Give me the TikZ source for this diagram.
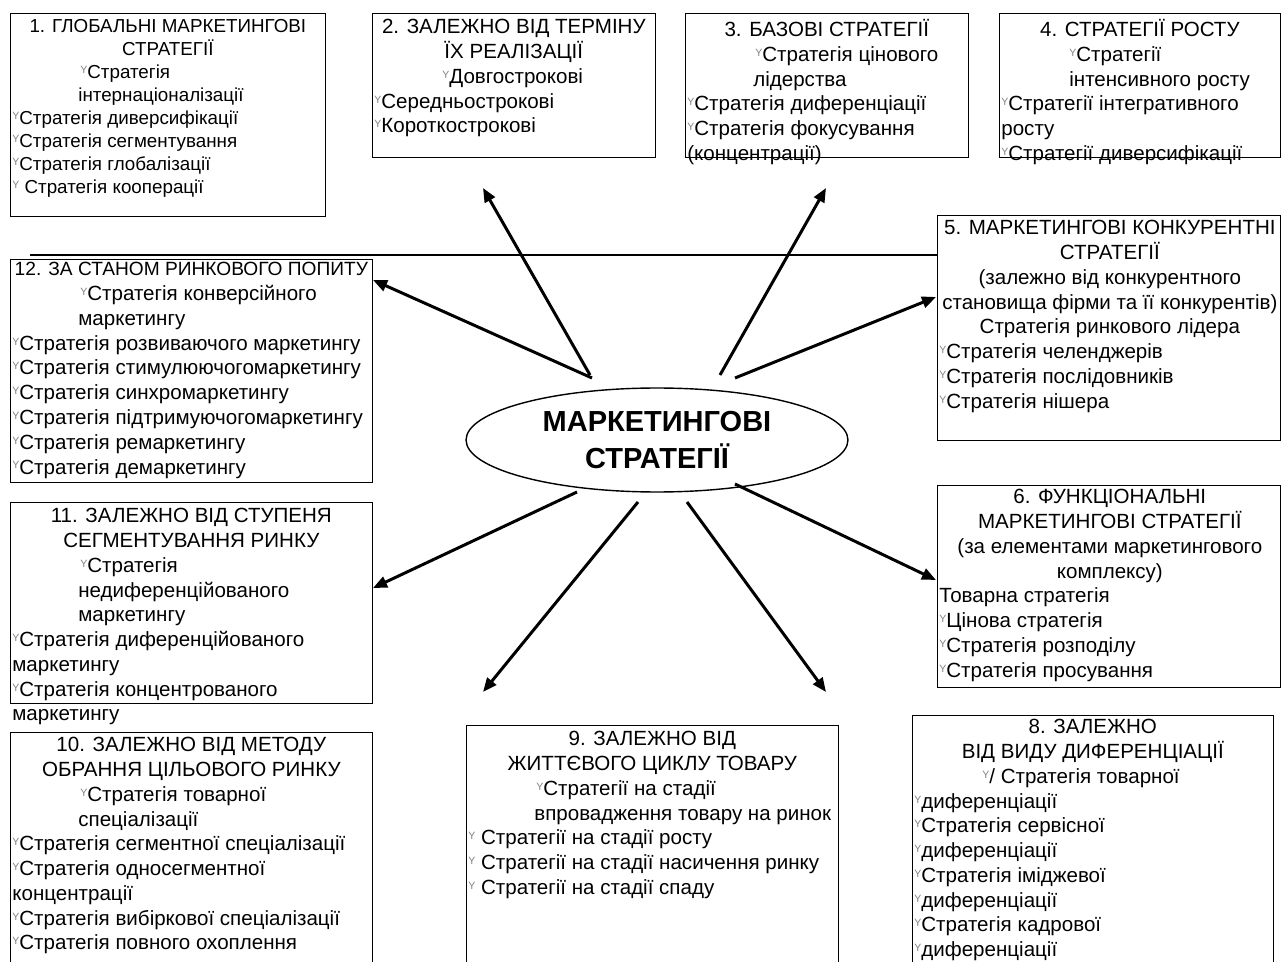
\documentclass[tikz,border=0pt]{standalone}
\usepackage{fontspec}
\setmainfont{Liberation Sans}
\usetikzlibrary{arrows.meta,shapes.geometric}

% piccolo segno grigio davanti alle voci
\newcommand\mk{{\color{gray}\fontsize{6}{6}\selectfont\raisebox{0.9ex}{Y}}}
\newcommand\hd[2]{\makebox[#1]{#2}}
\newcommand\ind{\hspace*{1.36cm}}
\newcommand\indw{\hspace*{1.32cm}}

\tikzset{
  box/.style={draw, line width=0.8pt, anchor=north west, inner sep=0pt},
  txt/.style={anchor=north west, align=left, inner sep=0pt, font=\fontsize{11.7}{14.1}\selectfont,
              execute at begin node={\rule{0pt}{11pt}}},
  arr/.style={-{Triangle[length=8pt,width=6.5pt]}, line width=1.7pt},
}

\begin{document}
\begin{tikzpicture}[x=0.02cm, y=-0.02cm]
    \useasboundingbox (0,0) rectangle (1281,962);

    % Nucleo centrale
    \node[draw, ellipse, line width=0.8pt, minimum width=7.64cm, minimum height=2.08cm, inner sep=0pt,
          align=center, font=\fontsize{16.5}{21}\selectfont\bfseries] (core) at (657,440)
          {МАРКЕТИНГОВІ\\СТРАТЕГІЇ};

    % Riquadri
    \node[box, minimum width=6.30cm, minimum height=4.06cm] (g1) at (10,13) {};
    \node[box, minimum width=5.66cm, minimum height=2.88cm] (g2) at (372,13) {};
    \node[box, minimum width=5.66cm, minimum height=2.88cm] (g3) at (685,13) {};
    \node[box, minimum width=5.62cm, minimum height=2.88cm] (g4) at (999,13) {};
    \node[box, minimum width=6.86cm, minimum height=4.50cm] (g5) at (937,215) {};
    \node[box, minimum width=6.86cm, minimum height=4.04cm] (g6) at (937,485) {};
    \node[box, minimum width=7.22cm, minimum height=5.20cm] (g8) at (912,715) {};
    \node[box, minimum width=7.44cm, minimum height=5.00cm] (g9) at (466,725) {};
    \node[box, minimum width=7.24cm, minimum height=4.80cm] (g10) at (10,732) {};
    \node[box, minimum width=7.24cm, minimum height=4.02cm] (g11) at (10,502) {};
    \node[box, minimum width=7.24cm, minimum height=4.46cm] (g12) at (10,259) {};

    % Linea orizzontale
    \coordinate (hl) at (30,255);
    \draw[line width=0.8pt] (hl) -- (hl -| g5.west);

    % Testi
    \node[txt, font=\fontsize{10.7}{13.1}\selectfont] (t1) at (12,18.6) {%
      \hd{6.22cm}{1. ГЛОБАЛЬНІ МАРКЕТИНГОВІ}\\
      \hd{6.22cm}{СТРАТЕГІЇ}\\
      \ind\mk Стратегія\\
      \indw інтернаціоналізації\\
      \mk Стратегія диверсифікації\\
      \mk Стратегія сегментування\\
      \mk Стратегія глобалізації\\
      \mk\ Стратегія кооперації};
    \node[txt] (t2) at (374,19.1) {%
      \hd{5.58cm}{2. ЗАЛЕЖНО ВІД ТЕРМІНУ}\\
      \hd{5.58cm}{ЇХ РЕАЛІЗАЦІЇ}\\
      \ind\mk Довгострокові\\
      \mk Середньострокові\\
      \mk Короткострокові};
    \node[txt] (t3) at (687,19.1) {%
      \hd{5.58cm}{3. БАЗОВІ СТРАТЕГІЇ}\\
      \ind\mk Стратегія цінового\\
      \indw лідерства\\
      \mk Стратегія диференціації\\
      \mk Стратегія фокусування\\
      (концентрації)};
    \node[txt] (t4) at (1001,19.1) {%
      \hd{5.54cm}{4. СТРАТЕГІЇ РОСТУ}\\
      \ind\mk Стратегії\\
      \ind інтенсивного росту\\
      \mk Стратегії інтегративного\\
      росту\\
      \mk Стратегії диверсифікації};
    \node[txt] (t5) at (939,220.1) {%
      \hd{6.82cm}{5. МАРКЕТИНГОВІ КОНКУРЕНТНІ}\\
      \hd{6.82cm}{СТРАТЕГІЇ}\\
      \hd{6.82cm}{(залежно від конкурентного}\\
      \hd{6.82cm}{становища фірми та її конкурентів)}\\
      \hd{6.82cm}{Стратегія ринкового лідера}\\
      \mk Стратегія челенджерів\\
      \mk Стратегія послідовників\\
      \mk Стратегія нішера};
    \node[txt] (t6) at (939,489.1) {%
      \hd{6.82cm}{6. ФУНКЦІОНАЛЬНІ}\\
      \hd{6.82cm}{МАРКЕТИНГОВІ СТРАТЕГІЇ}\\
      \hd{6.82cm}{(за елементами маркетингового}\\
      \hd{6.82cm}{комплексу)}\\
      Товарна стратегія\\
      \mk Цінова стратегія\\
      \mk Стратегія розподілу\\
      \mk Стратегія просування};
    \node[txt] (t8) at (914,719.1) {%
      \hd{7.14cm}{8. ЗАЛЕЖНО}\\
      \hd{7.14cm}{ВІД ВИДУ ДИФЕРЕНЦІАЦІЇ}\\
      \ind\mk/ Стратегія товарної\\
      \mk диференціації\\
      \mk Стратегія сервісної\\
      \mk диференціації\\
      \mk Стратегія іміджевої\\
      \mk диференціації\\
      \mk Стратегія кадрової\\
      \mk диференціації};
    \node[txt] (t9) at (468,731.1) {%
      \hd{7.36cm}{9. ЗАЛЕЖНО ВІД}\\
      \hd{7.36cm}{ЖИТТЄВОГО ЦИКЛУ ТОВАРУ}\\
      \ind\mk Стратегії на стадії\\
      \indw впровадження товару на ринок\\
      \mk\ Стратегії на стадії росту\\
      \mk\ Стратегії на стадії насичення ринку\\
      \mk\ Стратегії на стадії спаду};
    \node[txt] (t10) at (12,737.1) {%
      \hd{7.16cm}{10. ЗАЛЕЖНО ВІД МЕТОДУ}\\
      \hd{7.16cm}{ОБРАННЯ ЦІЛЬОВОГО РИНКУ}\\
      \ind\mk Стратегія товарної\\
      \indw спеціалізації\\
      \mk Стратегія сегментної спеціалізації\\
      \mk Стратегія односегментної\\
      концентрації\\
      \mk Стратегія вибіркової спеціалізації\\
      \mk Стратегія повного охоплення};
    \node[txt] (t11) at (12,508.1) {%
      \hd{7.16cm}{11. ЗАЛЕЖНО ВІД СТУПЕНЯ}\\
      \hd{7.16cm}{СЕГМЕНТУВАННЯ РИНКУ}\\
      \ind\mk Стратегія\\
      \indw недиференційованого\\
      \indw маркетингу\\
      \mk Стратегія диференційованого\\
      маркетингу\\
      \mk Стратегія концентрованого\\
      маркетингу};
    \node[txt] (t12) at (12,262.1) {%
      \hd{7.16cm}{\fontsize{10.9}{14.1}\selectfont 12. ЗА СТАНОМ РИНКОВОГО ПОПИТУ}\\
      \ind\mk Стратегія конверсійного\\
      \indw маркетингу\\
      \mk Стратегія розвиваючого маркетингу\\
      \mk Стратегія стимулюючогомаркетингу\\
      \mk Стратегія синхромаркетингу\\
      \mk Стратегія підтримуючогомаркетингу\\
      \mk Стратегія ремаркетингу\\
      \mk Стратегія демаркетингу};

    % Frecce
    \coordinate (s2) at (590,375);  \coordinate (e2) at (483,188);
    \coordinate (s3) at (720,375);  \coordinate (e3) at (826,188);
    \coordinate (s12) at (592,378); \coordinate (e12) at (373,280);
    \coordinate (s5) at (735,378);  \coordinate (e5) at (936,297);
    \coordinate (s11) at (577,492); \coordinate (e11) at (373,588);
    \coordinate (s6) at (735,484);  \coordinate (e6) at (936,580);
    \coordinate (s10) at (638,502); \coordinate (e10) at (483,692);
    \coordinate (s9) at (687,502);  \coordinate (e9) at (826,692);
    \foreach \i in {2,3,12,5,11,6,10,9}
        \draw[arr] (s\i) -- (e\i);
\end{tikzpicture}
\end{document}
